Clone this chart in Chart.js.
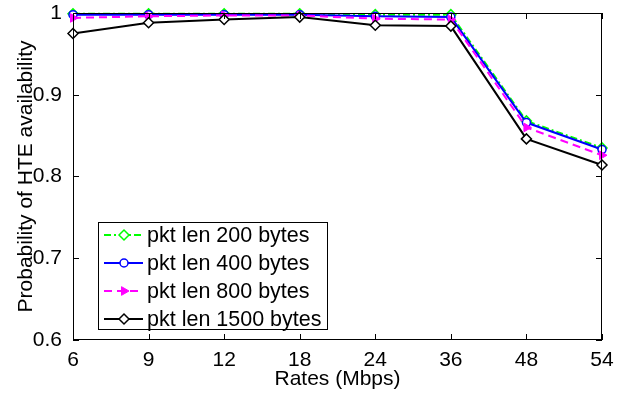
<!DOCTYPE html>
<html>
<head>
<meta charset="utf-8">
<script src="https://cdn.jsdelivr.net/npm/chart.js@4/dist/chart.umd.min.js"></script>
<style>
  html, body { margin: 0; padding: 0; background: #fff; }
  #wrap { width: 617px; height: 398px; }
</style>
</head>
<body>
<div id="wrap"><canvas id="chart"></canvas></div>
<script>
// Rates (Mbps) on the x axis
const rates = ["6", "9", "12", "18", "24", "36", "48", "54"];

// Probability of HTE availability per packet length
const len200 = [0.999, 0.999, 0.999, 0.999, 0.998, 0.998, 0.868, 0.835];
const len400 = [0.998, 0.998, 0.998, 0.998, 0.996, 0.995, 0.866, 0.833];
const len800 = [0.994, 0.996, 0.997, 0.997, 0.993, 0.992, 0.860, 0.826];
const len1500 = [0.975, 0.988, 0.992, 0.995, 0.985, 0.984, 0.846, 0.814];

const seriesNames = ["pkt len 200 bytes", "pkt len 400 bytes", "pkt len 800 bytes", "pkt len 1500 bytes"];

const FONT = "'Liberation Sans', Arial, Helvetica, sans-serif";

// MATLAB style box with inward ticks on all four sides
const boxFrame = {
  id: "boxFrame",
  afterDatasetsDraw(chart) {
    const { ctx, chartArea: a, scales } = chart;
    ctx.save();
    ctx.strokeStyle = "#000";
    ctx.lineWidth = 1;
    ctx.strokeRect(a.left + 0.5, a.top + 0.5, a.right - a.left - 1, a.bottom - a.top - 1);
    const len = 6;
    ctx.beginPath();
    scales.x.ticks.forEach((t, i) => {
      const x = Math.round(scales.x.getPixelForTick(i)) + 0.5;
      ctx.moveTo(x, a.bottom); ctx.lineTo(x, a.bottom - len);
      ctx.moveTo(x, a.top); ctx.lineTo(x, a.top + len);
    });
    scales.y.ticks.forEach(t => {
      const y = Math.round(scales.y.getPixelForValue(t.value)) + 0.5;
      ctx.moveTo(a.left, y); ctx.lineTo(a.left + len, y);
      ctx.moveTo(a.right, y); ctx.lineTo(a.right - len, y);
    });
    ctx.stroke();
    ctx.restore();
  }
};

// legend box drawn inside the plot, lower left
const boxLegend = {
  id: "boxLegend",
  afterDraw(chart) {
    const { ctx, chartArea: a } = chart;
    const bx = a.left + 25, by = 222, bw = 229, bh = 107;
    ctx.save();
    ctx.fillStyle = "#fff";
    ctx.fillRect(bx, by, bw, bh);
    ctx.strokeStyle = "#000";
    ctx.lineWidth = 1;
    ctx.strokeRect(bx + 0.5, by + 0.5, bw, bh);
    ctx.font = "21.5px " + FONT;
    ctx.textBaseline = "middle";
    chart.data.datasets.forEach((ds, i) => {
      const y = by + 13 + i * 28;
      ctx.strokeStyle = ds.borderColor;
      ctx.lineWidth = ds.borderWidth;
      ctx.setLineDash(ds.borderDash || []);
      ctx.beginPath();
      ctx.moveTo(bx + 6, y);
      ctx.lineTo(bx + 45, y);
      ctx.stroke();
      ctx.setLineDash([]);
      ctx.fillStyle = ds.pointBackgroundColor;
      ctx.strokeStyle = ds.pointBorderColor;
      ctx.lineWidth = ds.pointBorderWidth;
      Chart.helpers.drawPoint(ctx, {
        pointStyle: ds.pointStyle,
        rotation: ds.pointRotation || 0,
        radius: ds.pointRadius,
        borderWidth: ds.pointBorderWidth
      }, bx + 26, y);
      ctx.fillStyle = "#000";
      ctx.fillText(ds.label, bx + 49, y + 1);
    });
    ctx.restore();
  }
};

new Chart(document.getElementById("chart"), {
  type: "line",
  data: {
    labels: rates,
    datasets: [
      {
        label: seriesNames[0], data: len200, borderColor: "#00ff00", borderWidth: 2,
        borderDash: [7, 3, 2, 3], pointStyle: "rectRot", pointRadius: 5,
        pointBackgroundColor: "#fff", pointBorderColor: "#00ff00", pointBorderWidth: 1.5, order: 4
      },
      {
        label: seriesNames[1], data: len400, borderColor: "#0000ff", borderWidth: 2,
        pointStyle: "circle", pointRadius: 4,
        pointBackgroundColor: "#fff", pointBorderColor: "#0000ff", pointBorderWidth: 1.5, order: 3
      },
      {
        label: seriesNames[2], data: len800, borderColor: "#ff00ff", borderWidth: 2,
        borderDash: [8, 5], pointStyle: "triangle", pointRotation: 90, pointRadius: 5,
        pointBackgroundColor: "#ff00ff", pointBorderColor: "#ff00ff", pointBorderWidth: 1, order: 2
      },
      {
        label: seriesNames[3], data: len1500, borderColor: "#000000", borderWidth: 2,
        pointStyle: "rectRot", pointRadius: 5,
        pointBackgroundColor: "#fff", pointBorderColor: "#000000", pointBorderWidth: 1.5, order: 1
      }
    ]
  },
  options: {
    responsive: true,
    maintainAspectRatio: false,
    animation: false,
    events: [],
    clip: false,
    layout: { padding: { top: 13, right: 15, left: 0, bottom: 0 } },
    plugins: { legend: { display: false }, tooltip: { enabled: false } },
    elements: { line: { tension: 0 } },
    scales: {
      x: {
        type: "category",
        offset: false,
        grid: { display: false },
        border: { display: false },
        ticks: { color: "#000", font: { family: FONT, size: 21 }, padding: 0, maxRotation: 0, autoSkip: false },
        title: { display: true, text: "Rates (Mbps)", color: "#000", font: { family: FONT, size: 21 }, padding: { top: 0, bottom: 6 } },
        afterFit(scale) { scale.height = 58; scale.paddingLeft = 0; scale.paddingRight = 0; }
      },
      y: {
        min: 0.6,
        max: 1,
        grid: { display: false },
        border: { display: false },
        ticks: {
          stepSize: 0.1, color: "#000", font: { family: FONT, size: 21 }, padding: 3,
          callback: v => (Math.abs(v - 1) < 1e-9 ? "1" : v.toFixed(1))
        },
        title: { display: true, text: "Probability of HTE availability", color: "#000", font: { family: FONT, size: 21 }, padding: { top: 14, bottom: 0 } },
        afterFit(scale) { scale.width = 73; scale.paddingTop = 0; scale.paddingBottom = 0; }
      }
    }
  },
  plugins: [boxFrame, boxLegend]
});
</script>
</body>
</html>
